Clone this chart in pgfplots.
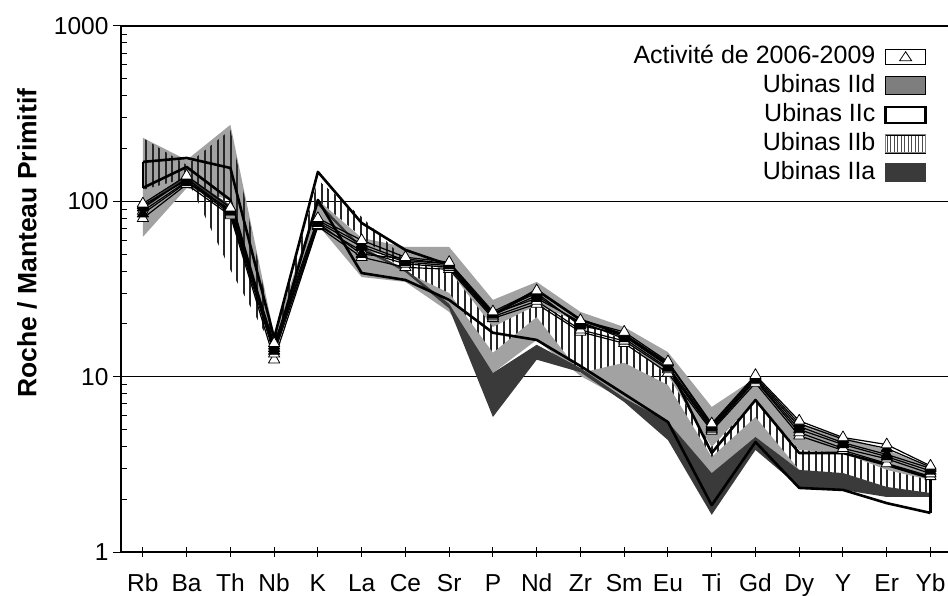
\documentclass[border=0pt]{standalone}
\usepackage{fontspec}
\setmainfont{Liberation Sans}
\usepackage{pgfplots}
\pgfplotsset{compat=1.18}
\usepackage{pgfplotstable}
\usepgfplotslibrary{fillbetween}
\usetikzlibrary{patterns}
\definecolor{IIdgray}{RGB}{162,162,162}
\definecolor{IIadark}{RGB}{58,58,58}

\pgfdeclarepatternformonly{vhatch}{\pgfqpoint{-1pt}{-2pt}}{\pgfqpoint{7.5pt}{82pt}}{\pgfqpoint{6.5pt}{80pt}}{%
  \pgfsetlinewidth{1.7pt}%
  \pgfpathmoveto{\pgfqpoint{3.25pt}{-2pt}}\pgfpathlineto{\pgfqpoint{3.25pt}{82pt}}\pgfusepath{stroke}}
\pgfdeclarepatternformonly{vhatchsmall}{\pgfqpoint{-1pt}{-2pt}}{\pgfqpoint{4.5pt}{82pt}}{\pgfqpoint{3.5pt}{80pt}}{%
  \pgfsetlinewidth{1pt}%
  \pgfpathmoveto{\pgfqpoint{1.75pt}{-2pt}}\pgfpathlineto{\pgfqpoint{1.75pt}{82pt}}\pgfusepath{stroke}}

% Ubinas IId (medium grey): envelope hi..lo, with an uncovered gap gh..gl where the IIb hatch lies
\pgfplotstableread{
x hi gh gl lo
0 230 230 230 62.7
1 172 172 172 119
2 273 102 102 102
3 17.3 13.8 13.8 13.8
4 101.9 101.9 101.9 73.3
5 61.8 52.8 52.8 37.0
6 54.9 46.3 39.6 34.7
7 54.9 40.6 30.0 23.4
8 27.4 19.2 13.7 10.5
9 34.7 25.6 21.9 16.2
10 23.4 20.5 10.5 10.1
11 19.2 16.2 12.0 7.36
12 13.8 10.2 8.97 5.30
13 6.72 3.97 3.48 2.82
14 9.83 7.36 5.89 4.53
15 5.44 3.82 2.94 2.94
16 4.53 3.67 2.57 2.57
17 3.82 2.94 2.06 2.06
18 3.05 2.57 2.06 2.06
}\IId

% Ubinas IIb (hatched)
\pgfplotstableread{
x hi lo
0 229.9 116.1
1 161.3 136.0
2 255.5 40.6
3 16.6 14.2
4 132.5 101.9
5 81.5 62.7
6 46.3 39.6
7 40.6 30.0
8 19.2 13.7
9 25.6 21.9
10 20.5 10.5
11 16.2 12.0
12 10.2 8.97
13 3.97 3.48
14 7.36 5.89
15 3.82 2.94
16 3.67 2.57
17 2.94 2.06
18 2.57 2.06
}\IIb

% Ubinas IIa (dark)
\pgfplotstableread{
x hi lo
0 95 90
1 140 134
2 95 90
3 15.0 14.2
4 100 95
5 55 53
6 41 39.5
7 26 24.5
8 10.5 5.89
9 15.2 12.5
10 11.2 10.6
11 7.56 7.17
12 5.51 4.35
13 2.82 1.63
14 4.53 3.82
15 2.94 2.35
16 2.82 2.26
17 2.35 2.06
18 2.17 2.06
}\IIa

% Ubinas IIc (white, thick outline)
\pgfplotstableread{
x hi lo
0 167.8 119.2
1 176.8 157.1
2 155.0 101.9
3 16.6 14.2
4 147.2 101.9
5 75.3 39.0
6 52.8 35.6
7 43.4 27.4
8 22.5 17.8
9 31.2 16.2
10 21.1 11.5
11 17.3 7.97
12 11.7 5.51
13 3.67 1.85
14 7.36 4.24
15 3.67 2.32
16 3.67 2.26
17 3.14 1.90
18 2.64 1.67
}\IIc

% Activite de 2006-2009 (samples)
\pgfplotstableread{
x a1 a2 a3 a4 a5 a6
0 97 92 88 85 80 95
1 140 135 130 128 125 132
2 92 88 85 90 83 87
3 15.5 14.5 13.5 14 12.5 15
4 80 76 73 78 72 75
5 60 55 52 57 48 50
6 48 45 44 46 42 47
7 45 43 42 44 41 44
8 23.5 22.5 22 23 21.5 22.8
9 31 29 27 30 26 28
10 21 20 18.5 19.5 18 20.5
11 18 17 16 17.5 15.5 16.5
12 12.2 11.5 11 12 10.5 11.2
13 5.4 5.2 5.0 5.3 4.9 5.1
14 10.2 9.8 9.5 10 9.2 9.6
15 5.6 5.2 4.8 5.4 4.6 5.0
16 4.5 4.2 3.9 4.4 3.8 4.1
17 4.1 3.6 3.4 3.9 3.2 3.5
18 3.1 3.0 2.8 3.05 2.7 2.9
}\Act

\begin{document}
\begin{tikzpicture}
\begin{axis}[
  at={(0pt,0pt)}, anchor=south west,
  scale only axis, width=827pt, height=526pt,
  xmin=-0.5, xmax=18.4, ymode=log, ymin=1, ymax=1000,
  axis x line*=bottom, axis y line*=left,
  axis line style={line width=1.3pt, -},
  xtick={0,...,18},
  xticklabels={Rb,Ba,Th,Nb,K,La,Ce,Sr,P,Nd,Zr,Sm,Eu,Ti,Gd,Dy,Y,Er,Yb},
  xtick align=center,
  ytick={1,10,100,1000}, yticklabels={1,10,100,1000},
  ytick align=inside,
  major tick length=10pt, minor tick length=6pt,
  tick style={black, line width=1pt},
  extra y ticks={1,10,100,1000}, extra y tick labels={},
  extra y tick style={ytick align=outside, major tick length=8pt},
  ymajorgrids, grid style={black, line width=1.3pt},
  ticklabel style={font=\fontsize{24.5}{28}\selectfont},
  xticklabel style={yshift=-13pt, text height=17.5pt, text depth=5pt},
  yticklabel style={xshift=-9pt},
  /pgf/number format/assume math mode=true,
  ylabel={Roche / Manteau Primitif},
  ylabel style={font=\fontsize{26.5}{30}\selectfont\bfseries, at={(axis description cs:-0.1135,0.587)}, anchor=center},
  legend cell align=right, legend plot pos=right,
  legend style={at={(axis description cs:1,1)}, anchor=north east, xshift=-21pt, yshift=-19pt,
    draw=none, fill=none, inner sep=0pt, row sep=6pt, column sep=9pt,
    nodes={inner sep=0pt, text height=18pt, text depth=5pt},
    font=\fontsize{25}{29}\selectfont},
]
\addlegendimage{legend image code/.code={
  \draw[black, line width=0.8pt, fill=white] (0pt,-7.5pt) rectangle (40pt,7.5pt);
  \draw[black, line width=0.8pt] (14pt,-4pt) -- (26pt,-4pt) -- (20pt,5pt) -- cycle;}}
\addlegendentry{Activité de 2006-2009}
\addlegendimage{legend image code/.code={
  \draw[black, line width=0.6pt, fill=IIdgray!78!black] (0pt,-9pt) rectangle (40pt,9pt);}}
\addlegendentry{Ubinas IId}
\addlegendimage{legend image code/.code={
  \draw[black, line width=2.4pt, fill=white] (0pt,-8pt) rectangle (40pt,8pt);}}
\addlegendentry{Ubinas IIc}
\addlegendimage{legend image code/.code={
  \fill[pattern=vhatchsmall, pattern color=black!70] (0pt,-9pt) rectangle (40pt,9pt);
  \draw[black!50, line width=0.6pt] (0pt,-9pt) rectangle (40pt,9pt);}}
\addlegendentry{Ubinas IIb}
\addlegendimage{legend image code/.code={
  \draw[IIadark, line width=0.6pt, fill=IIadark] (0pt,-9pt) rectangle (40pt,9pt);}}
\addlegendentry{Ubinas IIa}

% IId grey
\addplot[forget plot, draw=none, name path=dHi] table[x=x,y=hi]{\IId};
\addplot[forget plot, draw=none, name path=dGh] table[x=x,y=gh]{\IId};
\addplot[forget plot, draw=none, name path=dGl] table[x=x,y=gl]{\IId};
\addplot[forget plot, draw=none, name path=dLo] table[x=x,y=lo]{\IId};
\addplot[forget plot, fill=IIdgray, draw=none] fill between[of=dHi and dGh];
\addplot[forget plot, fill=IIdgray, draw=none] fill between[of=dGl and dLo];

% IIb hatch
\addplot[forget plot, draw=none, name path=bHi] table[x=x,y=hi]{\IIb};
\addplot[forget plot, draw=none, name path=bLo] table[x=x,y=lo]{\IIb};
\addplot[forget plot, draw=none, pattern=vhatch, pattern color=black!85] fill between[of=bHi and bLo];

% IIa dark
\addplot[forget plot, draw=none, name path=aHi] table[x=x,y=hi]{\IIa};
\addplot[forget plot, draw=none, name path=aLo] table[x=x,y=lo]{\IIa};
\addplot[forget plot, fill=IIadark, draw=none] fill between[of=aHi and aLo];

% IIc thick outline
\addplot[forget plot, black, line width=2.6pt, line join=round] table[x=x,y=hi]{\IIc};
\addplot[forget plot, black, line width=2.6pt, line join=round] table[x=x,y=lo]{\IIc};
\addplot[forget plot, black, line width=2.6pt] coordinates {(0,167.8) (0,119.2)};
\addplot[forget plot, black, line width=2.6pt] coordinates {(18,2.64) (18,1.67)};

% Activite 2006-2009
\pgfplotsset{act/.style={forget plot, black, line width=1.2pt, line join=round, mark=triangle*, mark size=6.5pt, mark options={line width=0.8pt, fill=black}},
  acto/.style={forget plot, black, line width=1.2pt, line join=round, mark=triangle*, mark size=6.5pt, mark options={line width=0.8pt, fill=white}}}
\addplot[acto] table[x=x,y=a5]{\Act};
\addplot[acto] table[x=x,y=a3]{\Act};
\addplot[act] table[x=x,y=a2]{\Act};
\addplot[act] table[x=x,y=a6]{\Act};
\addplot[act] table[x=x,y=a4]{\Act};
\addplot[acto] table[x=x,y=a1]{\Act};
\end{axis}
\pgfresetboundingbox
\path[use as bounding box] (-121pt,-43pt) rectangle (827pt,552pt);
\end{tikzpicture}
\end{document}
